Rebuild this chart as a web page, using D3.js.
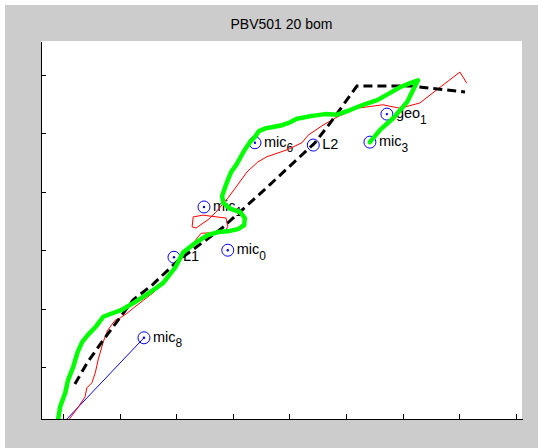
<!DOCTYPE html>
<html>
<head>
<meta charset="utf-8">
<script src="https://cdn.jsdelivr.net/npm/d3@7/dist/d3.min.js"></script>
<style>
  html, body { margin: 0; padding: 0; background: #fff; overflow: hidden; }
  svg { display: block; }
  text { font-family: "Liberation Sans", Arial, Helvetica, sans-serif; fill: #000; }
</style>
</head>
<body>
<svg id="chart" width="538" height="448"></svg>
<script>
// ---- data (track coordinates, tick units) ----
const titleText = "PBV501 20 bom";
const xTicks = [0, 10, 20, 30, 40, 50, 60, 70, 80];
const yTicks = [10, 20, 30, 40, 50, 60];

// measured track (thick green)
const trackX = [-0.9, -0.5, 0.4, 0.9, 1.8, 2.6, 3.4, 4.4, 5.7, 7.1, 8.7, 10.4, 12.7, 15.4, 17.7, 19.8, 21.2,
  23.3, 25.6, 27.4, 29.5, 30.9, 32.0, 32.1, 31.3, 29.5, 28.3, 28.1, 28.6, 29.1, 29.7, 30.6, 31.4, 32.1,
  33.0, 33.9, 34.6, 35.9, 37.1, 38.7, 40.1, 41.3, 44.0, 46.3, 48.4, 50.7, 53.0, 55.5, 57.7, 59.5, 61.3,
  62.7, 61.8, 60.8, 58.3, 56.0, 54.2];
const trackY = [0.8, 3.2, 5.6, 7.8, 10.0, 12.6, 14.3, 15.5, 16.8, 18.6, 19.2, 19.8, 21.1, 22.8, 24.4, 27.0, 29.6,
  31.2, 32.6, 33.1, 33.3, 33.6, 34.3, 35.5, 36.5, 37.1, 38.1, 39.3, 40.7, 42.0, 43.4, 44.6, 46.0, 47.2,
  48.5, 49.4, 50.4, 50.9, 51.1, 51.4, 51.9, 52.5, 53.0, 53.3, 53.2, 54.0, 54.9, 55.7, 56.9, 57.9, 58.6,
  59.1, 57.4, 55.4, 52.6, 50.6, 48.5];

// estimated track (thin red)
const estX = [0.9, 2.6, 3.9, 4.2, 5.1, 5.7, 6.2, 7.1, 7.9, 9.2, 10.1, 11.3, 12.7, 15.9, 17.7, 19.4, 21.2,
  22.4, 23.7, 24.4, 28.6, 29.1, 28.8, 24.7, 23.0, 22.8, 23.5, 25.6, 27.0, 29.1, 30.7, 32.5, 34.4, 36.0,
  39.6, 42.2, 43.3, 45.9, 48.4, 51.9, 56.5, 59.5, 63.0, 66.6, 70.1, 71.3];
const estY = [0.8, 3.0, 4.9, 6.4, 7.3, 9.0, 11.2, 14.3, 16.3, 18.0, 18.4, 19.2, 20.3, 22.7, 24.4, 26.6, 28.8,
  30.4, 32.1, 32.9, 33.1, 34.1, 35.5, 36.0, 35.7, 34.0, 33.8, 35.2, 36.5, 38.9, 41.0, 43.4, 45.1, 46.0,
  47.2, 48.4, 49.7, 51.4, 52.8, 54.3, 54.9, 54.3, 55.2, 57.9, 60.5, 58.6];

// planned route (black dashed)
const routeX = [2.1, 4.4, 7.1, 9.7, 12.4, 15.7, 20.3, 28.1, 35.3, 44.5, 47.2, 51.9, 61.6, 71.0];
const routeY = [7.1, 10.9, 14.6, 18.0, 21.5, 24.0, 28.2, 33.8, 40.1, 48.4, 51.8, 58.1, 58.1, 57.1];

// sensor positions
const sensorName = ["mic", "L1", "mic", "mic", "mic", "L2", "mic", "geo"];
const sensorSub  = ["8", "", "0", "1", "6", "", "3", "1"];
const sensorX = [14.3, 19.6, 29.1, 24.9, 33.9, 44.2, 54.2, 57.2];
const sensorY = [15.0, 28.8, 30.0, 37.4, 48.4, 48.0, 48.5, 53.3];

// line-of-sight from mic 8 to the start point
const sightX = [14.3, 0.4];
const sightY = [15.0, 0.8];

// ---- layout ----
const W = 538, H = 448;
const plot = { left: 41, top: 41, right: 522, bottom: 419 };

const svg = d3.select("#chart");

// figure background
svg.append("rect").attr("x", 5).attr("y", 5).attr("width", W - 5).attr("height", H - 5).attr("fill", "#cccccc");
// axes background
svg.append("rect")
  .attr("x", plot.left).attr("y", plot.top)
  .attr("width", plot.right - plot.left).attr("height", plot.bottom - plot.top)
  .attr("fill", "#ffffff");

const x = d3.scaleLinear().domain([-3.885, 81.06]).range([plot.left, plot.right]);
const y = d3.scaleLinear().domain([1.096, 65.82]).range([plot.bottom, plot.top]);

svg.append("defs").append("clipPath").attr("id", "clip")
  .append("rect")
  .attr("x", plot.left).attr("y", plot.top)
  .attr("width", plot.right - plot.left).attr("height", plot.bottom - plot.top);

// title
svg.append("text")
  .attr("x", (plot.left + plot.right) / 2).attr("y", 29)
  .attr("text-anchor", "middle")
  .style("font-size", "14px")
  .text(titleText);

// axes: ticks pointing inward, no labels
const xAxis = d3.axisBottom(x).tickValues(xTicks).tickSizeInner(-5).tickSizeOuter(0).tickFormat("");
const yAxis = d3.axisLeft(y).tickValues(yTicks).tickSizeInner(-5).tickSizeOuter(0).tickFormat("");

const gx = svg.append("g").attr("transform", `translate(0,${plot.bottom})`).call(xAxis);
const gy = svg.append("g").attr("transform", `translate(${plot.left},0)`).call(yAxis);
[gx, gy].forEach(g => {
  g.selectAll("path, line").attr("stroke", "#000").attr("shape-rendering", "crispEdges");
});

const zip = (xs, ys) => xs.map((v, i) => [v, ys[i]]);
const line = d3.line().x(d => x(d[0])).y(d => y(d[1]));

const layer = svg.append("g").attr("clip-path", "url(#clip)");

// sensors: circle with centre dot, plus label with subscript
const sensors = sensorName.map((n, i) => ({ n, s: sensorSub[i], x: sensorX[i], y: sensorY[i] }));
const sg = layer.selectAll("g.sensor").data(sensors).join("g").attr("class", "sensor");
sg.append("circle")
  .attr("cx", d => x(d.x)).attr("cy", d => y(d.y)).attr("r", 6)
  .attr("fill", "none").attr("stroke", "#0000ff").attr("stroke-width", 1);
sg.append("circle")
  .attr("cx", d => x(d.x)).attr("cy", d => y(d.y)).attr("r", 1.2)
  .attr("fill", "#0000ff");
const lbl = sg.append("text")
  .attr("x", d => x(d.x) + 9).attr("y", d => y(d.y) + 4)
  .style("font-size", "14.5px");
lbl.append("tspan").text(d => d.n);
lbl.append("tspan")
  .attr("dy", 5.5).style("font-size", "12px")
  .text(d => d.s);

// blue sight line
layer.append("path").attr("d", line(zip(sightX, sightY)))
  .attr("fill", "none").attr("stroke", "#0000ff").attr("stroke-width", 1);

// red estimate
layer.append("path").attr("d", line(zip(estX, estY)))
  .attr("fill", "none").attr("stroke", "#ff0000").attr("stroke-width", 1)
  .attr("stroke-linejoin", "round");

// black dashed route
layer.append("path").attr("d", line(zip(routeX, routeY)))
  .attr("fill", "none").attr("stroke", "#000").attr("stroke-width", 3)
  .attr("stroke-dasharray", "9,5");

// green measured track
layer.append("path").attr("d", line(zip(trackX, trackY)))
  .attr("fill", "none").attr("stroke", "#00ff00").attr("stroke-width", 4.5)
  .attr("stroke-linejoin", "round").attr("stroke-linecap", "round");
</script>
</body>
</html>
